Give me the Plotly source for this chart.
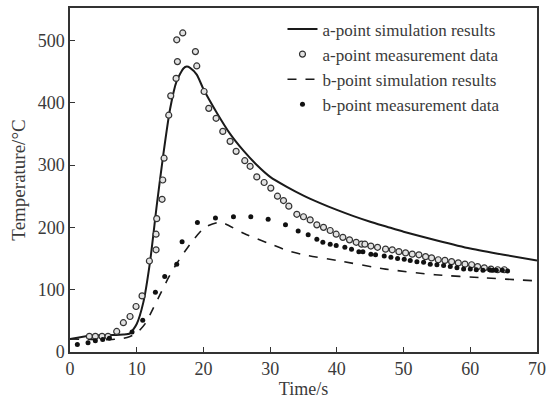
import plotly.graph_objects as go

# a-point simulation (solid line)
a_sim_t = [0, 3, 6, 8, 9, 10, 11, 12, 13, 14, 15, 16, 17, 17.5, 18, 19, 20, 22, 24, 26, 28, 30, 32.5, 35, 37.5, 40, 42.5, 45, 47.5, 50, 55, 60, 65, 70]
a_sim_T = [21, 26, 27, 28, 30, 45, 80, 145, 235, 318, 390, 435, 455, 458, 456, 445, 422, 384, 350, 323, 300, 281, 265, 251, 239, 228, 218, 209, 201, 193, 179, 166, 156, 147]

# a-point measurement
a_meas_t = [2.9, 3.8, 4.8, 5.7, 7.0, 8.0, 9.0, 9.9, 10.8, 11.9, 12.9, 12.9, 13.0, 13.8, 13.9, 14.1, 14.8, 15.1, 15.9, 16.1, 16.0, 16.9,
            18.8, 19.0, 20.1, 20.8, 21.9, 22.9, 24.0, 24.9, 26.2, 27.0, 28.0, 29.1, 30.1, 31.1, 32.0, 32.8, 34.0, 35.0, 36.0, 37.0,
            38.0, 39.0, 39.9, 40.9, 41.9, 42.9, 43.7, 44.2, 45.1, 46.1, 47.3, 48.3, 49.3, 50.3, 51.3, 52.3, 53.3, 54.2, 55.2, 56.2,
            57.2, 58.2, 59.2, 60.2, 61.1, 62.1, 63.1, 64.1, 65.1]
a_meas_T = [25, 25, 25, 25, 33, 47, 57, 73, 90, 146, 164, 189, 214, 245, 276, 311, 380, 411, 439, 466, 501, 512,
            482, 459, 418, 391, 375, 354, 338, 322, 307, 298, 281, 272, 263, 250, 243, 234, 221, 217, 212, 204,
            200, 195, 189, 184, 180, 176, 173, 173, 170, 168, 165, 164, 161, 159, 157, 156, 153, 151, 148, 147,
            145, 143, 141, 140, 137, 135, 133, 132, 132]

# b-point simulation (dashed line)
b_sim_t = [0, 3, 6, 8, 9, 10, 11.3, 12, 13.3, 14.8, 16, 18.2, 20.2, 22.2, 23, 26.1, 30.6, 32.5, 35.5, 40, 47.3, 54.7, 62.1, 70]
b_sim_T = [21, 20, 20, 22, 25, 30, 46, 60, 88, 120, 142, 176, 200, 208, 207, 190, 171, 163, 155, 147, 133, 124, 119, 114]

# b-point measurement
b_meas_t = [1.1, 2.7, 3.8, 4.9, 5.9, 9.3, 10.9, 12.8, 14.2, 16.0, 16.8, 19.1, 21.8, 24.5, 27.1, 29.7, 32.3, 34.2, 35.7, 37.0,
            37.9, 39.0, 39.9, 41.2, 42.2, 43.3, 43.9, 45.1, 45.8, 47.1, 48.1, 49.1, 50.1, 51.0, 52.0, 53.0, 54.0, 55.0,
            56.0, 57.0, 58.0, 59.0, 60.0, 60.9, 61.9, 62.9, 63.4, 63.9, 64.8, 65.6]
b_meas_T = [12, 15, 18, 20, 22, 32, 51, 96, 121, 141, 177, 208, 215, 217, 217, 213, 204, 194, 188, 181,
            176, 173, 171, 168, 165, 161, 161, 157, 156, 154, 152, 150, 149, 147, 145, 144, 141, 140,
            139, 137, 135, 133, 133, 132, 131, 132, 131, 131, 131, 130]

x_ticks = [0, 10, 20, 30, 40, 50, 60, 70]
y_ticks = [0, 100, 200, 300, 400, 500]

FONT = "Liberation Serif"
TXT = "#3a3a3a"
fig = go.Figure()
fig.add_trace(go.Scatter(x=a_sim_t, y=a_sim_T, mode="lines", name="a-point simulation results",
                         line=dict(color="#1a1a1a", width=2, shape="spline", smoothing=0.6)))
fig.add_trace(go.Scatter(x=a_meas_t, y=a_meas_T, mode="markers", name="a-point measurement data",
                         marker=dict(symbol="circle", size=6, color="#e2e2e2", line=dict(color="#333", width=1.2))))
fig.add_trace(go.Scatter(x=b_sim_t, y=b_sim_T, mode="lines", name="b-point simulation results",
                         line=dict(color="#1a1a1a", width=1.6, dash="dash", shape="spline", smoothing=0.6)))
fig.add_trace(go.Scatter(x=b_meas_t, y=b_meas_T, mode="markers", name="b-point measurement data",
                         marker=dict(symbol="circle", size=5, color="#111")))

axis_common = dict(showline=True, mirror=True, linecolor="#333", linewidth=1.5, ticks="inside", ticklen=5,
                   tickcolor="#333", showgrid=False, zeroline=False,
                   tickfont=dict(family=FONT, size=18, color=TXT))
fig.update_xaxes(range=[0, 70], tickvals=x_ticks,
                 title=dict(text="Time/s", font=dict(family=FONT, size=18, color=TXT), standoff=3),
                 **axis_common)
fig.update_yaxes(range=[0, 552], tickvals=y_ticks,
                 title=dict(text="Temperature/°C", font=dict(family=FONT, size=19, color=TXT), standoff=7),
                 **axis_common)
fig.update_layout(width=552, height=402, margin=dict(l=70, r=9, t=6, b=50),
                  plot_bgcolor="white", paper_bgcolor="white",
                  legend=dict(x=0.455, y=0.99, xanchor="left", yanchor="top", bgcolor="rgba(0,0,0,0)",
                              font=dict(family=FONT, size=17, color=TXT), tracegroupgap=0),
                  font=dict(family=FONT))
fig.write_html("out.html", config={"displayModeBar": False},
               post_script="document.body.style.margin='0px';")
